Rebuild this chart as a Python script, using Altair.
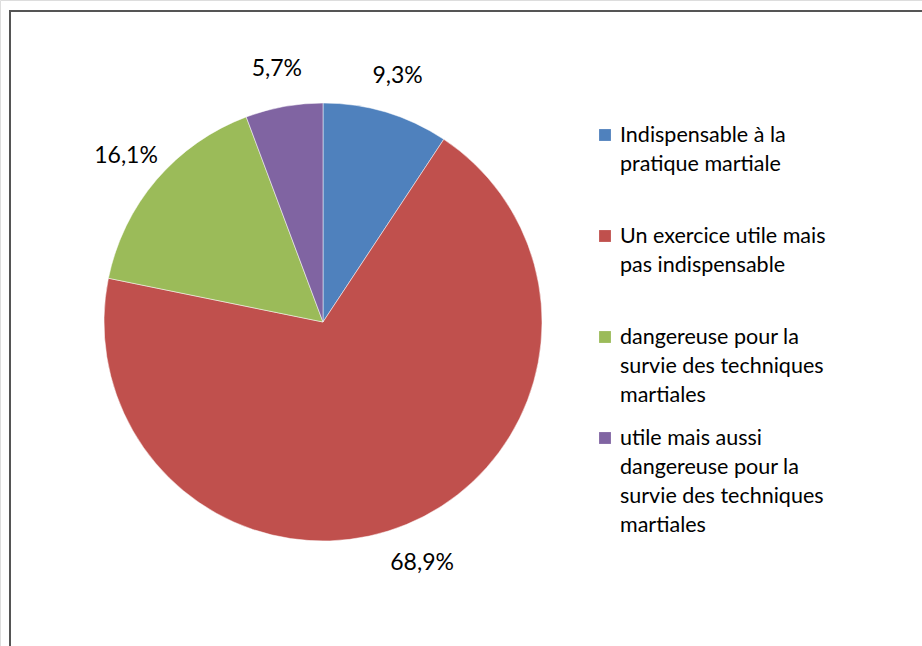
import altair as alt
import pandas as pd

categories = [
    "Indispensable à la\npratique martiale",
    "Un exercice utile mais\npas indispensable",
    "dangereuse pour la\nsurvie des techniques\nmartiales",
    "utile mais aussi\ndangereuse pour la\nsurvie des techniques\nmartiales",
]
values = [9.3, 68.9, 16.1, 5.7]
labels = ["9,3%", "68,9%", "16,1%", "5,7%"]
colors = ["#4F81BD", "#C0504D", "#9BBB59", "#8064A2"]

df = pd.DataFrame({
    "cat": categories,
    "value": values,
    "label": labels,
    "order": list(range(len(categories))),
})

FONT = "Lato"
cx, cy, R = 323, 322, 219

color = alt.Color("cat:N", scale=alt.Scale(domain=categories, range=colors), legend=None)

base = alt.Chart(df)

pie = base.mark_arc(outerRadius=R, stroke="white", strokeWidth=0.5).encode(
    theta=alt.Theta("value:Q", stack=True),
    order=alt.Order("order:Q"),
    color=color,
    x=alt.value(cx),
    y=alt.value(cy),
)

pct = base.mark_text(font=FONT, fontSize=23, color="#000000", radius=259).encode(
    theta=alt.Theta("value:Q", stack=True),
    order=alt.Order("order:Q"),
    text="label:N",
    x=alt.value(cx),
    y=alt.value(cy + 2),
)

ypos = alt.Y("cat:N", sort=categories, axis=None,
             scale=alt.Scale(type="point", domain=categories, range=[135, 438], padding=0))

sym = base.mark_square(size=140, opacity=1).encode(
    x=alt.value(605),
    y=ypos,
    color=color,
)

legtext = base.mark_text(font=FONT, fontSize=21.5, align="left", baseline="alphabetic",
                         lineBreak="\n", lineHeight=29, dy=7, color="#000000").encode(
    x=alt.value(620),
    y=ypos,
    text="cat:N",
)

frame = alt.Chart(pd.DataFrame({"a": [0]})).mark_rect(
    fill=None, stroke="#555555", strokeWidth=2
).encode(
    x=alt.value(10), y=alt.value(11), x2=alt.value(960), y2=alt.value(700)
)

chart = alt.layer(frame, pie, pct, sym, legtext).properties(
    width=922, height=646,
    autosize=alt.AutoSizeParams(type="none"),
    padding=0,
).configure_view(stroke=None).configure(background="white")

chart.save("out.html", embed_options={"renderer": "svg", "actions": False})
